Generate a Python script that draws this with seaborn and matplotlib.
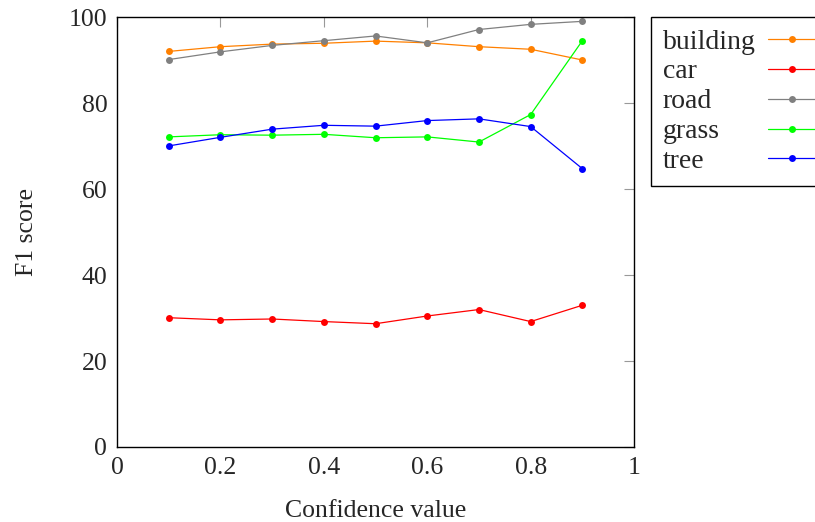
import pandas as pd
import seaborn as sns
import matplotlib.pyplot as plt

confidence = [0.1, 0.2, 0.3, 0.4, 0.5, 0.6, 0.7, 0.8, 0.9]
building = [92.1, 93.2, 93.8, 94.0, 94.5, 94.1, 93.2, 92.6, 90.1]
car = [30.1, 29.6, 29.8, 29.2, 28.7, 30.5, 32.0, 29.2, 33.0]
road = [90.2, 92.0, 93.5, 94.6, 95.7, 94.1, 97.2, 98.4, 99.1]
grass = [72.2, 72.7, 72.6, 72.8, 72.0, 72.2, 71.0, 77.4, 94.6]
tree = [70.1, 72.1, 74.0, 74.9, 74.7, 76.0, 76.4, 74.6, 64.8]

classes = ["building", "car", "road", "grass", "tree"]
colors = ["#FF8000", "#FF0000", "#808080", "#00FF00", "#0000FF"]


def build_frame():
    series = {"building": building, "car": car, "road": road,
              "grass": grass, "tree": tree}
    rows = []
    for name in classes:
        for x, y in zip(confidence, series[name]):
            rows.append({"conf": x, "f1": y, "cls": name})
    return pd.DataFrame(rows)


def plot(df):
    sns.set_theme(style="white")
    plt.rcParams["font.family"] = ["Liberation Serif", "DejaVu Serif"]

    fig = plt.figure(figsize=(8.15, 5.22), dpi=100)
    ax = fig.add_axes([0.1436, 0.1437, 0.6344, 0.8228])

    sns.lineplot(data=df, x="conf", y="f1", hue="cls", hue_order=classes,
                 palette=colors, marker="o", markersize=5, markeredgewidth=0,
                 linewidth=0.9, dashes=False, ax=ax)

    ax.set_xlim(0, 1)
    ax.set_ylim(0, 100)
    ax.set_xticks([0, 0.2, 0.4, 0.6, 0.8, 1])
    ax.set_xticklabels(["0", "0.2", "0.4", "0.6", "0.8", "1"])
    ax.set_yticks([0, 20, 40, 60, 80, 100])
    ax.tick_params(direction="in", top=True, right=True, length=7.5,
                   width=0.8, color="#999999", labelsize=18.5, pad=7)
    for s in ax.spines.values():
        s.set_color("black")
        s.set_linewidth(1.0)

    ax.set_xlabel("Confidence value", fontsize=18.5, labelpad=15)
    ax.set_ylabel("F1 score", fontsize=18.5, labelpad=22)

    handles, labels = ax.get_legend_handles_labels()
    leg = ax.legend(handles, labels, loc="upper left",
                    bbox_to_anchor=(1.033, 1.0), borderaxespad=0,
                    fontsize=20, markerfirst=False, handlelength=1.7,
                    handletextpad=0.45, labelspacing=0.16, borderpad=0.42,
                    frameon=True, fancybox=False, edgecolor="black",
                    framealpha=1)
    leg.get_frame().set_linewidth(1.0)

    # text left aligned, handles pushed to the right like pgfplots
    fig.canvas.draw()
    renderer = fig.canvas.get_renderer()
    rows = [row for col in leg._legend_handle_box.get_children()
            for row in col.get_children()]
    wmax = max(row.get_bbox(renderer).width for row in rows)
    for row in rows:
        row.mode = "expand"
        row.width = wmax

    fig.savefig("out.png", dpi=100)


def main():
    df = build_frame()
    plot(df)


if __name__ == "__main__":
    main()
